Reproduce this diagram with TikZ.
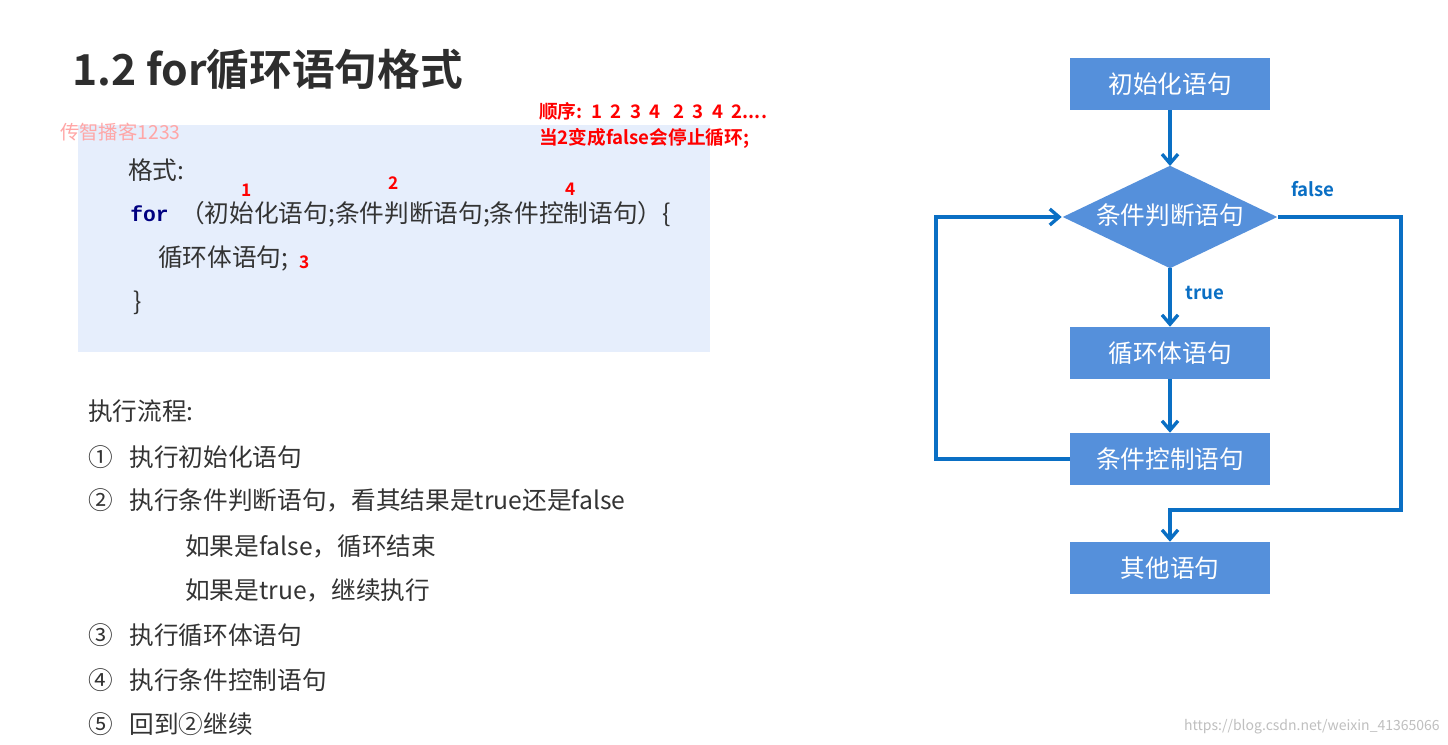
\documentclass[tikz,border=0pt]{standalone}
\usepackage{fontspec}
\setmainfont{Noto Sans CJK SC}
\newfontfamily\cjkb{Noto Sans CJK SC Bold}
\newfontfamily\monob{Liberation Mono}
\usetikzlibrary{arrows.meta,shapes.geometric}
\definecolor{boxblue}{HTML}{5590DB}
\definecolor{lineblue}{HTML}{0A6FC4}
\definecolor{codebg}{HTML}{E6EEFC}
\definecolor{txt}{HTML}{333333}
\begin{document}
\begin{tikzpicture}[x=0.75pt,y=-0.75pt,
  fbox/.style={fill=boxblue,text=white,minimum width=150pt,minimum height=39pt,inner sep=0pt,font=\fontsize{18.5}{20}\selectfont},
  conn/.style={draw=lineblue,line width=3pt,-{Straight Barb[length=7pt,width=12pt,line width=2.5pt]}},
  redn/.style={text=red,font=\cjkb\fontsize{13}{15}\selectfont,inner sep=0pt},
  body/.style={text=txt,font=\fontsize{18.5}{20}\selectfont,inner sep=0pt,anchor=west},
  lbl/.style={text=lineblue,font=\cjkb\fontsize{14}{16}\selectfont,inner sep=0pt}]
\useasboundingbox (0,0) rectangle (1448,745);
\fill[white] (0,0) rectangle (1448,745);
% title
\node[anchor=west,inner sep=0pt,text=txt!90!black,font=\cjkb\fontsize{32}{34}\selectfont] (title) at (72,70) {1.2 for循环语句格式};
% code box
\fill[codebg] (78,125) rectangle (710,352);
\node[anchor=west,inner sep=0pt,text=red!35,font=\fontsize{14.5}{16}\selectfont] (wm) at (60,132) {传智播客1233};
\node[body] (fmt) at (128,170) {格式:};
\node[anchor=west,inner sep=0pt,text=blue!50!black,font=\monob\bfseries\fontsize{16}{18}\selectfont] (for) at (130,214) {for};
\node[body] (forrest) at (180,214) {（初始化语句;条件判断语句;条件控制语句）\{};
\node[body] (loopb) at (158,258) {循环体语句;};
\node[body] (close) at (133,303) {\}};
\node[redn] (n1) at (247,190) {1};
\node[redn] (n2) at (394,183) {2};
\node[redn] (n4) at (571,189) {4};
\node[redn] (n3) at (305,262) {3};
\node[anchor=west,text=red,font=\cjkb\fontsize{14}{15}\selectfont,inner sep=0pt] (ord) at (539,111) {顺序:\ \ 1\ \ 2\ \ 3\ \ 4\ \ \ 2\ \ 3\ \ 4\ \ 2....};
\node[anchor=west,text=red,font=\cjkb\fontsize{14}{15}\selectfont,inner sep=0pt] (stop) at (539,138) {当2变成false会停止循环;};
% flow text
\node[body] (h) at (88,411) {执行流程:};
\node[body] (s1) at (88,457) {①\ \ \ 执行初始化语句};
\node[body] (s2) at (88,500) {②\ \ \ 执行条件判断语句，看其结果是true还是false};
\node[body] (s2a) at (185,546) {如果是false，循环结束};
\node[body] (s2b) at (185,590) {如果是true，继续执行};
\node[body] (s3) at (88,635) {③\ \ \ 执行循环体语句};
\node[body] (s4) at (88,680) {④\ \ \ 执行条件控制语句};
\node[body] (s5) at (88,724) {⑤\ \ \ 回到②继续};
% flowchart
\node[fbox] (init) at (1170,84) {初始化语句};
\node[diamond,fill=boxblue,minimum width=161pt,minimum height=77pt,aspect=2.1,inner sep=0pt] (cond) at (1170,217) {};
\node[text=white,font=\fontsize{18.5}{20}\selectfont,inner sep=0pt] (condt) at (1170,215) {条件判断语句};
\node[fbox] (body) at (1170,353) {循环体语句};
\node[fbox] (ctrl) at (1170,459) {条件控制语句};
\node[fbox] (other) at (1170,568) {其他语句};
\coordinate (cl) at (1063,217);
\coordinate (cr) at (1278,217);
\coordinate (ct) at (1170,166);
\coordinate (cb) at (1170,268);
\coordinate (lc1) at (936,459);
\coordinate (lc2) at (936,217);
\coordinate (rc1) at (1401,217);
\coordinate (rc2) at (1401,510);
\coordinate (rc3) at (1170,510);
\draw[conn] (init.south) -- (ct);
\draw[conn] (cb) -- (body.north);
\draw[conn] (body.south) -- (ctrl.north);
\draw[conn] (ctrl.west) -- (lc1) -- (lc2) -- ([xshift=-1pt]cl);
\draw[conn] (cr) -- (rc1) -- (rc2) -- (rc3) -- (other.north);
\node[lbl] (tl) at (1205,293) {true};
\node[lbl] (fl) at (1313,189) {false};
\node[anchor=east,inner sep=0pt,text=black!25,font=\fontsize{10.5}{12}\selectfont] (url) at (1440,727) {https://blog.csdn.net/weixin\_41365066};
\end{tikzpicture}
\end{document}
